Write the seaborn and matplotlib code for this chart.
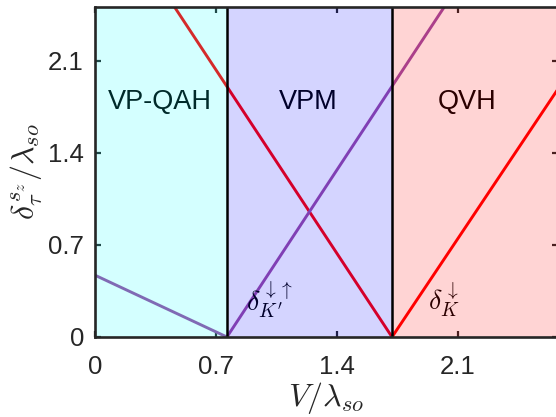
import numpy as np
import pandas as pd
import matplotlib
matplotlib.use("Agg")
import matplotlib.pyplot as plt
import seaborn as sns

# ---- data ----
boundaries = [0.763, 1.718]          # phase boundaries in V/lambda_so
x_max, y_max = 2.678, 2.51
red1_x = [0.45, 1.718]
red1_y = [2.53, 0.0]
red2_x = [1.718, 2.70]
red2_y = [0.0, 1.93]
purple_x = [0.0, 0.763, 2.03]
purple_y = [0.47, 0.0, 2.53]
regions = ["VP-QAH", "VPM", "QVH"]
region_label_x = [0.376, 1.235, 2.15]
region_label_y = 1.79
ticks = [0, 0.7, 1.4, 2.1]
tick_labels = ["0", "0.7", "1.4", "2.1"]

sns.set_style("ticks")
plt.rcParams["font.family"] = ["Liberation Sans", "DejaVu Sans"]
plt.rcParams["mathtext.fontset"] = "cm"

fig = plt.figure(figsize=(5.56, 4.17), dpi=100)
ax = fig.add_axes([95/556, 80/417, (558-95)/556, (337-7)/417])

sns.lineplot(x=red1_x, y=red1_y, color="#ff0000", lw=2.1, ax=ax, estimator=None, sort=False, zorder=2)
sns.lineplot(x=red2_x, y=red2_y, color="#ff0000", lw=2.1, ax=ax, estimator=None, sort=False, zorder=2)
sns.lineplot(x=purple_x, y=purple_y, color="#9a4ca6", lw=2.1, ax=ax, estimator=None, sort=False, zorder=2)

edges = [0.0] + boundaries + [x_max]
fills = ["#00ffff", "#0000ff", "#ff0000"]
for i, name in enumerate(regions):
    ax.axvspan(edges[i], edges[i+1], color=fills[i], alpha=0.17, lw=0, zorder=4)
    ax.text(region_label_x[i], region_label_y, name, ha="center", va="center",
            fontsize=19.5, color="black", zorder=3)
for b in boundaries:
    ax.axvline(b, color="black", lw=1.8, zorder=5)

ax.text(1.01, 0.28, r"$\delta_{K'}^{\downarrow\uparrow}$", ha="center", va="center",
        fontsize=20, color="black", zorder=3)
ax.text(2.02, 0.28, r"$\delta_{K}^{\downarrow}$", ha="center", va="center",
        fontsize=20, color="black", zorder=3)

ax.set_xlim(0, x_max)
ax.set_ylim(0, y_max)
ax.set_xticks(ticks)
ax.set_xticklabels(tick_labels)
ax.set_yticks(ticks)
ax.set_yticklabels(tick_labels)
ax.tick_params(direction="in", length=4, width=1.6, labelsize=18.5, colors="#262626",
               top=True, right=True)
ax.tick_params(axis="x", pad=13)
ax.tick_params(axis="y", pad=8)
for s in ax.spines.values():
    s.set_linewidth(1.9)
    s.set_color("#262626")
    s.set_zorder(6)

ax.set_xlabel(r"$V/\lambda_{so}$", fontsize=23, labelpad=1, color="#262626")
ax.set_ylabel(r"$\delta_{\tau}^{s_z}/\lambda_{so}$", fontsize=23, labelpad=2, color="#262626")

fig.savefig("out.png", dpi=100)
